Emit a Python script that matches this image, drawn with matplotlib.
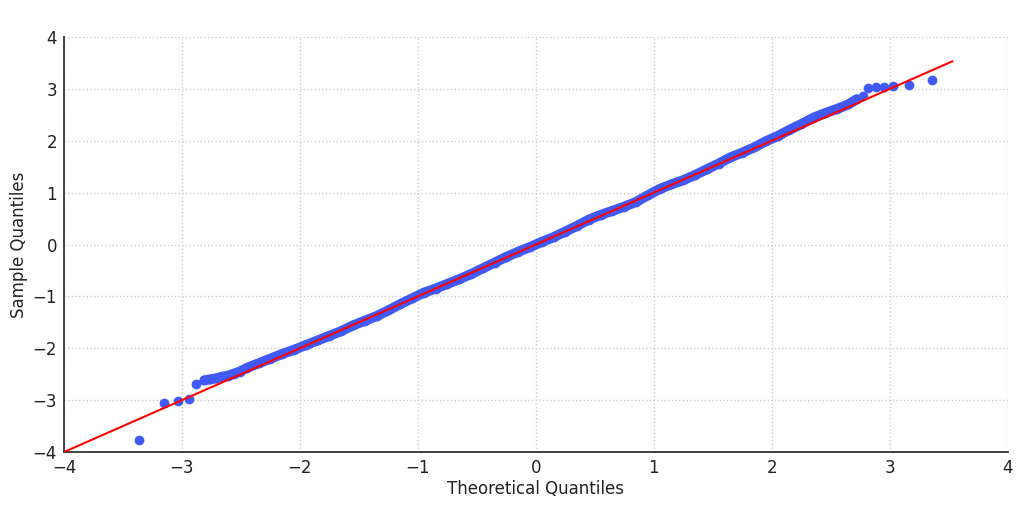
import matplotlib.pyplot as plt
import numpy as np

# lower tail points (theoretical, sample)
tail_lo_x = [-3.36, -3.15, -3.03, -2.94, -2.88]
tail_lo_y = [-3.77, -3.05, -3.02, -2.98, -2.69]

# main body of the sample quantiles
body_x = [-2.81, -2.76, -2.71, -2.66, -2.61, -2.56, -2.51,
          -2.45, -2.35, -2.25, -2.15, -2.05, -1.95, -1.85, -1.75, -1.65, -1.55,
          -1.45, -1.35, -1.25, -1.15, -1.05, -0.95, -0.85, -0.75, -0.65, -0.55,
          -0.45, -0.35, -0.25, -0.15, -0.05, 0.05, 0.15, 0.25, 0.35, 0.45,
          0.55, 0.65, 0.75, 0.85, 0.95, 1.05, 1.15, 1.25, 1.35, 1.45,
          1.55, 1.65, 1.75, 1.85, 1.95, 2.05, 2.15, 2.25, 2.35, 2.45,
          2.55, 2.65, 2.72]
body_y = [-2.62, -2.60, -2.58, -2.55, -2.53, -2.49, -2.45,
          -2.38, -2.29, -2.20, -2.11, -2.03, -1.94, -1.85, -1.76, -1.67, -1.56,
          -1.47, -1.38, -1.27, -1.15, -1.04, -0.93, -0.85, -0.76, -0.67, -0.57,
          -0.46, -0.35, -0.24, -0.14, -0.05, 0.05, 0.14, 0.25, 0.36, 0.48,
          0.57, 0.65, 0.73, 0.82, 0.95, 1.07, 1.16, 1.24, 1.34, 1.45,
          1.56, 1.68, 1.77, 1.87, 1.99, 2.09, 2.21, 2.32, 2.44, 2.53,
          2.61, 2.70, 2.80]

# upper tail points
tail_hi_x = [2.77, 2.82, 2.88, 2.95, 3.03, 3.16, 3.36]
tail_hi_y = [2.87, 3.02, 3.03, 3.04, 3.05, 3.07, 3.18]

ref_line = [-4, 3.53]

blue = '#4159f5'

fig = plt.figure(figsize=(10.24, 5.07), dpi=100)
ax = fig.add_axes([0.0625, 0.1085, 0.9215, 0.8185])

ax.plot(body_x, body_y, '-', color=blue, lw=7.2, solid_capstyle='round', zorder=2)
ax.plot(tail_lo_x + body_x + tail_hi_x, tail_lo_y + body_y + tail_hi_y, 'o',
        color=blue, ms=7, mew=0, zorder=2)
ax.plot(ref_line, ref_line, color='red', lw=1.5, zorder=3)

ax.set_xlim(-4, 4)
ax.set_ylim(-4, 4)
ax.set_xticks(np.arange(-4, 5, 1))
ax.set_yticks(np.arange(-4, 5, 1))
ax.grid(True, ls=':', color='#cccccc', lw=1)
ax.set_axisbelow(True)
for s in ['top', 'right']:
    ax.spines[s].set_visible(False)
for s in ['left', 'bottom']:
    ax.spines[s].set_color('#333333')
    ax.spines[s].set_linewidth(1.3)
ax.tick_params(length=0, labelsize=12, colors='#222222', pad=5)
ax.set_xlabel('Theoretical Quantiles', fontsize=12, color='#222222', labelpad=2)
ax.set_ylabel('Sample Quantiles', fontsize=12, color='#222222', labelpad=3)

fig.savefig('out.png', dpi=100)
